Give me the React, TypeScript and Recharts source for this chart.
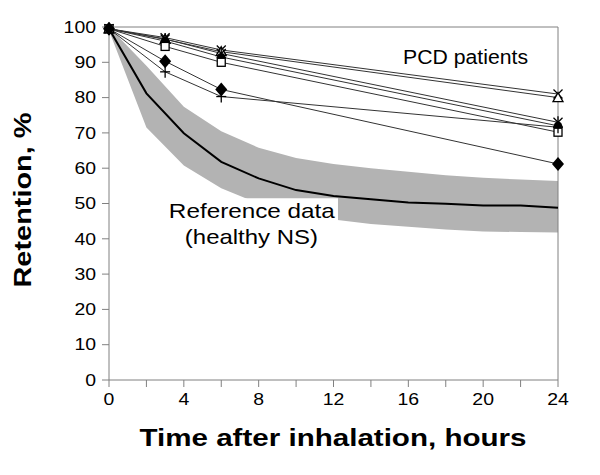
import React from "react";
import {
  Area,
  ComposedChart,
  Line,
  ReferenceArea,
  ReferenceLine,
  XAxis,
  YAxis,
} from "recharts";

// reference group (healthy NS): mean curve and shaded range, every 2 h
const refHours = [0, 2, 4, 6, 8, 10, 12, 14, 16, 18, 20, 22, 24];
const refMean = [99.5, 81.2, 69.9, 61.8, 57.1, 53.8, 52.1, 51.2, 50.3, 49.9, 49.4, 49.4, 48.8];
const refUpper = [100, 89, 77.4, 70.5, 65.8, 62.9, 61.2, 60, 59, 58, 57.3, 56.8, 56.4];
const refLower = [99, 71.5, 60.8, 54.3, 50, 47.5, 45.5, 44.2, 43.4, 42.6, 42.1, 41.9, 41.8];

// PCD patients, measured at 0, 3, 6 and 24 h
const pcdHours = [0, 3, 6, 24];
const pcdCross = [99.5, 97, 93.5, 81];
const pcdTriangle = [99.5, 96.5, 93, 80];
const pcdAsterisk = [99.5, 96.6, 92.5, 73];
const pcdCircle = [99.5, 96, 91.5, 72];
const pcdSquare = [99.5, 94.5, 90, 70.2];
const pcdDiamond = [99.5, 90.3, 82.3, 61.2];
const pcdPlus = [99.5, 87.3, 80.3, 71.6];

const xTicks = [0, 2, 4, 6, 8, 10, 12, 14, 16, 18, 20, 22, 24];
const yTicks = [0, 10, 20, 30, 40, 50, 60, 70, 80, 90, 100];

type Shape = "cross" | "triangle" | "asterisk" | "circle" | "square" | "diamond" | "plus";

const patients: { key: string; shape: Shape; values: number[] }[] = [
  { key: "p1", shape: "cross", values: pcdCross },
  { key: "p2", shape: "triangle", values: pcdTriangle },
  { key: "p3", shape: "asterisk", values: pcdAsterisk },
  { key: "p4", shape: "circle", values: pcdCircle },
  { key: "p5", shape: "square", values: pcdSquare },
  { key: "p6", shape: "diamond", values: pcdDiamond },
  { key: "p7", shape: "plus", values: pcdPlus },
];

const hours = Array.from(new Set([...refHours, ...pcdHours])).sort((a, b) => a - b);
const rows = hours.map((h) => {
  const row: Record<string, any> = { hour: h };
  const i = refHours.indexOf(h);
  if (i >= 0) {
    row.mean = refMean[i];
    row.band = [refLower[i], refUpper[i]];
  }
  const j = pcdHours.indexOf(h);
  if (j >= 0) patients.forEach((p) => (row[p.key] = p.values[j]));
  return row;
});

const FONT = "'Liberation Sans', Arial, sans-serif";

function Marker({ cx, cy, shape }: { cx?: number; cy?: number; shape: Shape }) {
  if (cx == null || cy == null || isNaN(cy)) return <g />;
  const s = { stroke: "#000", strokeWidth: 1.3 };
  switch (shape) {
    case "cross":
      return (
        <g {...s}>
          <line x1={cx - 4.5} y1={cy - 4.5} x2={cx + 4.5} y2={cy + 4.5} />
          <line x1={cx - 4.5} y1={cy + 4.5} x2={cx + 4.5} y2={cy - 4.5} />
        </g>
      );
    case "triangle":
      return (
        <polygon
          points={`${cx},${cy - 5} ${cx + 5},${cy + 4} ${cx - 5},${cy + 4}`}
          fill="#fff"
          {...s}
        />
      );
    case "asterisk":
      return (
        <g {...s}>
          <line x1={cx - 4.5} y1={cy - 4.5} x2={cx + 4.5} y2={cy + 4.5} />
          <line x1={cx - 4.5} y1={cy + 4.5} x2={cx + 4.5} y2={cy - 4.5} />
          <line x1={cx} y1={cy - 6} x2={cx} y2={cy + 6} />
        </g>
      );
    case "circle":
      return <circle cx={cx} cy={cy} r={4} fill="#000" />;
    case "square":
      return <rect x={cx - 4} y={cy - 4} width={8} height={8} fill="#fff" {...s} />;
    case "diamond":
      return (
        <polygon
          points={`${cx},${cy - 7} ${cx + 6},${cy} ${cx},${cy + 7} ${cx - 6},${cy}`}
          fill="#000"
        />
      );
    default:
      return (
        <g {...s}>
          <line x1={cx - 5} y1={cy} x2={cx + 5} y2={cy} />
          <line x1={cx} y1={cy - 6} x2={cx} y2={cy + 6} />
        </g>
      );
  }
}

function XTick({ x, y, payload }: any) {
  if (payload.value % 4 !== 0) return <g />;
  const label = String(payload.value);
  return (
    <text
      x={x}
      y={y}
      dy="0.71em"
      textAnchor="middle"
      fontSize={16}
      fontFamily={FONT}
      fill="#000"
      textLength={label.length * 10.8}
      lengthAdjust="spacingAndGlyphs"
    >
      {label}
    </text>
  );
}

function YTick({ x, y, payload }: any) {
  const label = String(payload.value);
  return (
    <text
      x={x}
      y={y}
      dy="0.36em"
      textAnchor="end"
      fontSize={16}
      fontFamily={FONT}
      fill="#000"
      textLength={label.length * 10.8}
      lengthAdjust="spacingAndGlyphs"
    >
      {label}
    </text>
  );
}

// text box for the reference group, drawn inside its white ReferenceArea
function RefBoxLabel({ viewBox }: any) {
  if (!viewBox) return null;
  const { x, y } = viewBox;
  return (
    <g fontFamily={FONT} fill="#000">
      <text x={x} y={y + 20} fontSize={21} textLength={166} lengthAdjust="spacingAndGlyphs">
        Reference data
      </text>
      <text x={x + 16} y={y + 46} fontSize={21} textLength={133} lengthAdjust="spacingAndGlyphs">
        (healthy NS)
      </text>
    </g>
  );
}

export default function App() {
  return (
    <div
      style={{
        position: "absolute",
        left: 0,
        top: 0,
        width: 600,
        height: 475,
        background: "#fff",
        fontFamily: FONT,
      }}
    >
      <ComposedChart
        width={600}
        height={475}
        data={rows}
        margin={{ top: 27, right: 42, bottom: 35, left: 49 }}
      >
        <XAxis
          dataKey="hour"
          type="number"
          domain={[0, 24]}
          ticks={xTicks}
          interval={0}
          height={60}
          tickSize={7}
          tickMargin={7}
          stroke="#808080"
          tick={<XTick />}
        />
        <YAxis
          type="number"
          domain={[0, 100]}
          ticks={yTicks}
          interval={0}
          width={60}
          tickSize={7}
          tickMargin={6}
          stroke="#808080"
          tick={<YTick />}
        />
        <ReferenceLine y={100} stroke="#808080" />
        <ReferenceLine x={24} stroke="#808080" />
        <Area
          dataKey="band"
          type="linear"
          stroke="none"
          fill="#b3b3b3"
          fillOpacity={1}
          connectNulls
          isAnimationActive={false}
          dot={false}
          activeDot={false}
        />
        <ReferenceArea
          x1={3.2}
          x2={12.24}
          y1={36}
          y2={51.5}
          fill="#fff"
          fillOpacity={1}
          stroke="none"
          label={<RefBoxLabel />}
        />
        <Line
          dataKey="mean"
          type="linear"
          stroke="#000"
          strokeWidth={2}
          dot={false}
          activeDot={false}
          connectNulls
          isAnimationActive={false}
        />
        {patients.map((p) => (
          <Line
            key={p.key}
            dataKey={p.key}
            type="linear"
            stroke="#333"
            strokeWidth={1}
            connectNulls
            activeDot={false}
            isAnimationActive={false}
            dot={(props: any) => (
              <Marker key={`${p.key}-${props.index}`} cx={props.cx} cy={props.cy} shape={p.shape} />
            )}
          />
        ))}
        <text x={403} y={64} fontSize={20} fontFamily={FONT} textLength={125} lengthAdjust="spacingAndGlyphs">
          PCD patients
        </text>
        <text
          x={333}
          y={446}
          textAnchor="middle"
          fontSize={23}
          fontWeight="bold"
          fontFamily={FONT}
          textLength={387}
          lengthAdjust="spacingAndGlyphs"
        >
          Time after inhalation, hours
        </text>
        <text
          x={31}
          y={200}
          transform="rotate(-90 31 200)"
          textAnchor="middle"
          fontSize={23}
          fontWeight="bold"
          fontFamily={FONT}
          textLength={175}
          lengthAdjust="spacingAndGlyphs"
        >
          Retention, %
        </text>
      </ComposedChart>
    </div>
  );
}
